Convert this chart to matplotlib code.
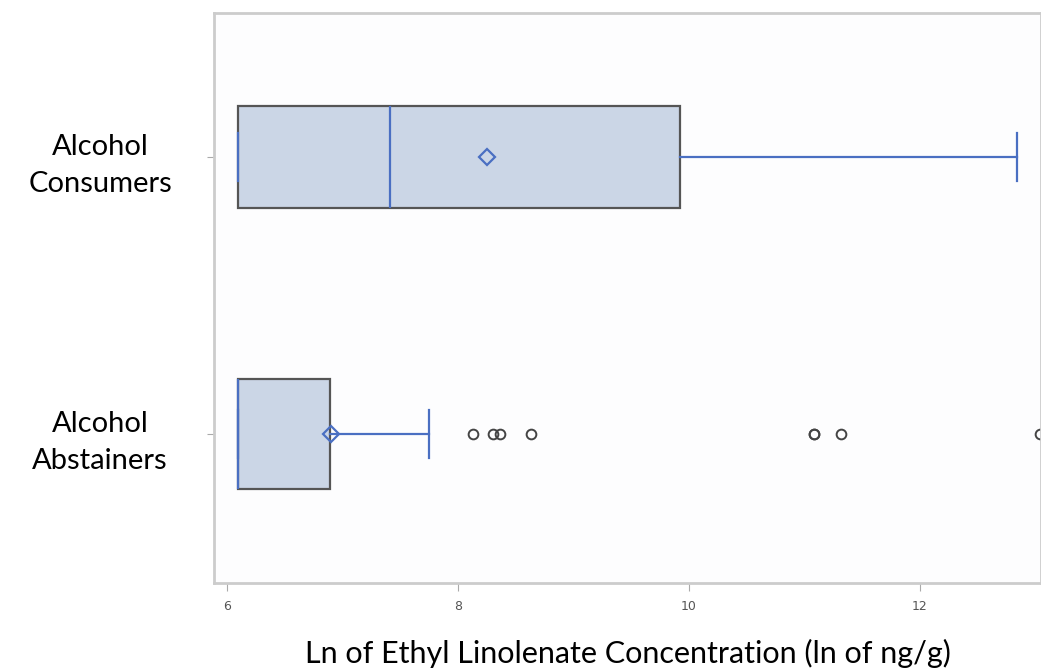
import matplotlib.pyplot as plt
import numpy as np

groups = ['Alcohol\nAbstainers', 'Alcohol\nConsumers']
q1 = [6.095, 6.095]
median = [6.095, 7.41]
q3 = [6.89, 9.92]
mean = [6.90, 8.25]
whisker_lo = [6.095, 6.095]
whisker_hi = [7.75, 12.84]
outliers = [[8.13, 8.30, 8.36, 8.63, 11.08, 11.08, 11.32, 13.04], []]
xticks = [6, 8, 10, 12]

stats = []
for i in range(len(groups)):
    stats.append(dict(q1=q1[i], med=median[i], q3=q3[i], mean=mean[i],
                      whislo=whisker_lo[i], whishi=whisker_hi[i],
                      fliers=outliers[i], label=groups[i]))

blue = '#4a6fc2'
fig = plt.figure(figsize=(10.41, 6.72), dpi=100)
ax = fig.add_axes([0.2056, 0.1324, 0.7944, 0.8483])

ax.bxp(stats, positions=[0, 1], orientation='horizontal', widths=[0.40, 0.365],
       patch_artist=True, showmeans=True, capwidths=0.17,
       boxprops=dict(facecolor='#cbd6e6', edgecolor='#555555', linewidth=1.6),
       medianprops=dict(color=blue, linewidth=1.6),
       whiskerprops=dict(color=blue, linewidth=1.6),
       capprops=dict(color=blue, linewidth=1.6),
       meanprops=dict(marker='D', markerfacecolor='none', markeredgecolor=blue,
                      markersize=8, markeredgewidth=1.6),
       flierprops=dict(marker='o', markerfacecolor='none', markeredgecolor='#444444',
                       markersize=7, markeredgewidth=1.4))

ax.set_xlim(5.887, 13.05)
ax.set_ylim(-0.538, 1.52)
ax.set_xticks(xticks)
ax.set_xticklabels([str(t) for t in xticks], fontsize=9, color='#555555')

ax.set_yticks([0, 1])
ax.set_yticklabels(groups, fontsize=21, family='Lato', ha='center', linespacing=1.55)
ax.tick_params(axis='y', pad=77, length=5, color='#aaaaaa')
ax.tick_params(axis='x', length=6, color='#aaaaaa', pad=6)

for side in ['top', 'left', 'bottom', 'right']:
    ax.spines[side].set_color('#cccccc')
    ax.spines[side].set_linewidth(2)
ax.set_facecolor('#fdfdfe')

ax.set_xlabel('Ln of Ethyl Linolenate Concentration (ln of ng/g)', fontsize=22,
              family='Lato', labelpad=19)

fig.savefig('out.png', dpi=100)
